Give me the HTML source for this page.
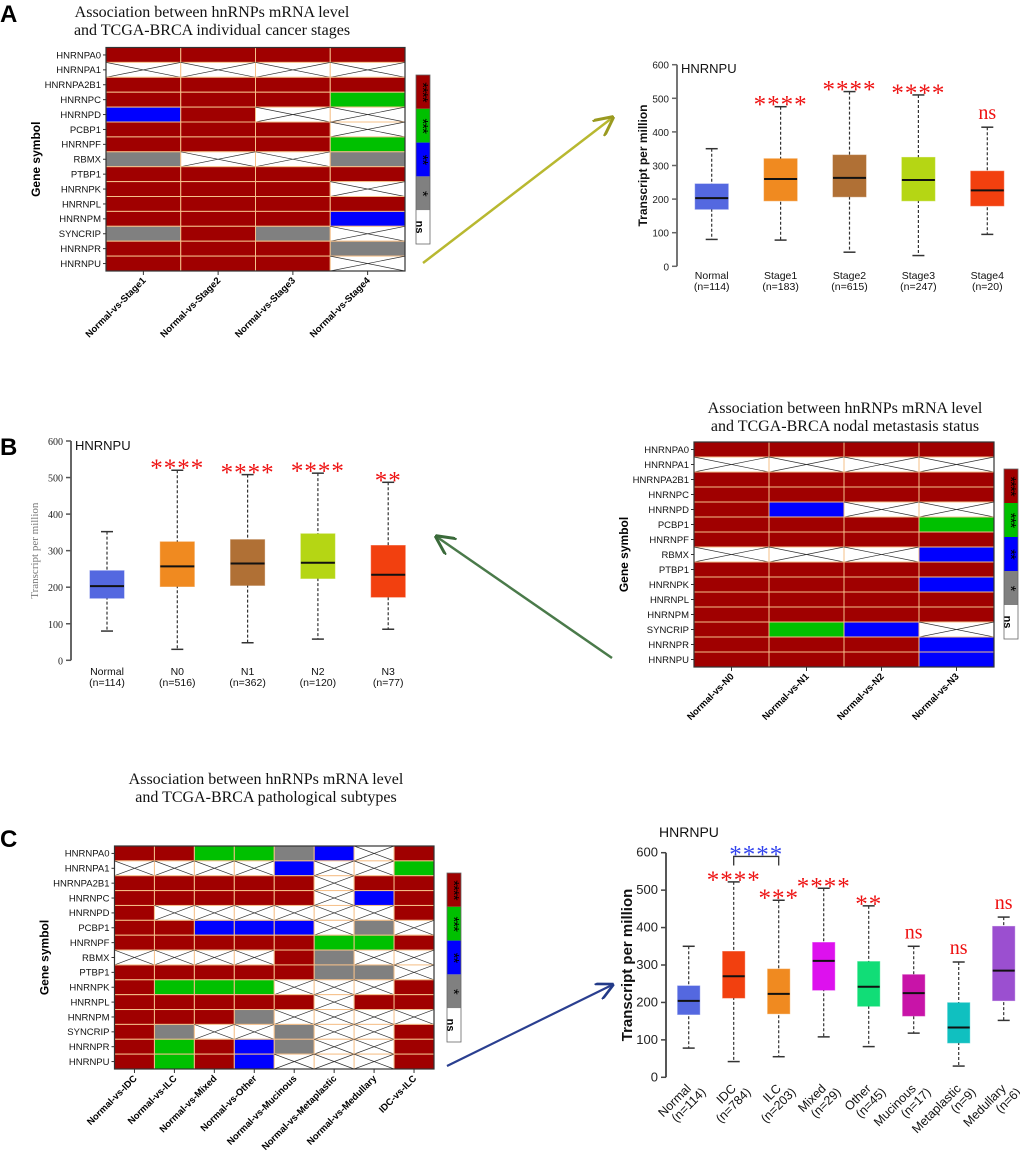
<!DOCTYPE html>
<html><head><meta charset="utf-8"><style>
body{margin:0;background:#fff;}
svg{display:block;font-family:"Liberation Sans",sans-serif;}
</style></head><body>
<svg id="fig" width="1020" height="1155" viewBox="0 0 1020 1155">
<text x="0" y="22" font-size="24" font-weight="bold">A</text>
<text x="0" y="455" font-size="24" font-weight="bold">B</text>
<text x="0" y="847" font-size="24" font-weight="bold">C</text>
<g font-family="Liberation Serif,serif" font-size="16" text-anchor="middle" fill="#111">
<text x="212" y="17">Association between hnRNPs mRNA level</text>
<text x="212" y="35">and TCGA-BRCA individual cancer stages</text>
<text x="845" y="413">Association between hnRNPs mRNA level</text>
<text x="845" y="431">and TCGA-BRCA nodal metastasis status</text>
<text x="266" y="784">Association between hnRNPs mRNA level</text>
<text x="266" y="802">and TCGA-BRCA pathological subtypes</text>
</g>
<defs>
<marker id="ahY" markerWidth="8" markerHeight="8" refX="7" refY="4" orient="auto"><path d="M0,0 L8,4 L0,8" fill="none" stroke="#9a9a20" stroke-width="1.2"/></marker>
<marker id="ahG" markerWidth="8" markerHeight="8" refX="7" refY="4" orient="auto"><path d="M0,0 L8,4 L0,8" fill="none" stroke="#3a6a3a" stroke-width="1.2"/></marker>
<marker id="ahB" markerWidth="8" markerHeight="8" refX="7" refY="4" orient="auto"><path d="M0,0 L8,4 L0,8" fill="none" stroke="#223a88" stroke-width="1.2"/></marker>
</defs>
<line x1="423" y1="263" x2="612" y2="118" stroke="#b8b830" stroke-width="2.5" marker-end="url(#ahY)"/>
<line x1="612" y1="658" x2="437" y2="537" stroke="#4a7a4a" stroke-width="2.5" marker-end="url(#ahG)"/>
<line x1="447" y1="1066" x2="612" y2="985" stroke="#2a3f90" stroke-width="2.2" marker-end="url(#ahB)"/>
</svg>
<script>
const genes=["HNRNPA0","HNRNPA1","HNRNPA2B1","HNRNPC","HNRNPD","PCBP1","HNRNPF","RBMX","PTBP1","HNRNPK","HNRNPL","HNRNPM","SYNCRIP","HNRNPR","HNRNPU"];
// significance codes: 4=****,3=***,2=**,1=*,0=ns
const heatA=[[4,4,4,4],[0,0,0,0],[4,4,4,4],[4,4,4,3],[2,4,0,0],[4,4,4,0],[4,4,4,3],[1,0,0,1],[4,4,4,4],[4,4,4,0],[4,4,4,4],[4,4,4,2],[1,4,1,0],[4,4,4,1],[4,4,4,0]];
const colsA=["Normal-vs-Stage1","Normal-vs-Stage2","Normal-vs-Stage3","Normal-vs-Stage4"];
const heatB=[[4,4,4,4],[0,0,0,0],[4,4,4,4],[4,4,4,4],[4,2,0,0],[4,4,4,3],[4,4,4,4],[0,0,0,2],[4,4,4,4],[4,4,4,2],[4,4,4,4],[4,4,4,4],[4,3,2,0],[4,4,4,2],[4,4,4,2]];
const colsB=["Normal-vs-N0","Normal-vs-N1","Normal-vs-N2","Normal-vs-N3"];
const heatC=[[4,4,3,3,1,2,0,4],[0,0,0,0,2,0,0,3],[4,4,4,4,4,0,4,4],[4,4,4,4,4,0,2,4],[4,0,0,0,0,0,0,4],[4,4,2,2,2,0,1,0],[4,4,4,4,4,3,3,4],[0,0,0,0,4,1,0,0],[4,4,4,4,4,1,1,0],[4,3,3,3,0,0,0,4],[4,4,4,4,4,0,4,4],[4,4,4,1,0,0,0,0],[4,1,0,0,1,0,0,4],[4,3,4,2,1,0,0,4],[4,3,4,2,0,0,0,4]];
const colsC=["Normal-vs-IDC","Normal-vs-ILC","Normal-vs-Mixed","Normal-vs-Other","Normal-vs-Mucinous","Normal-vs-Metaplastic","Normal-vs-Medullary","IDC-vs-ILC"];
const sigColors=["#ffffff","#808080","#0000ff","#00c000","#a00000"];
const sigLabels=["ns","*","**","***","****"];

// boxplots: [min,q1,median,q3,max]
const catsA=["Normal","Stage1","Stage2","Stage3","Stage4"];
const nA=["114","183","615","247","20"];
const boxA=[[80,170,203,245,350],[78,195,260,320,475],[42,207,263,331,520],[32,195,257,324,510],[95,180,226,283,414]];
const sigA=["","****","****","****","ns"];
const catsB=["Normal","N0","N1","N2","N3"];
const nB=["114","516","362","120","77"];
const boxB=[[80,170,203,245,352],[30,202,257,324,520],[48,205,265,330,508],[58,224,267,346,512],[85,173,234,314,487]];
const sigB=["","****","****","****","**"];
const catsC=["Normal","IDC","ILC","Mixed","Other","Mucinous","Metaplastic","Medullary"];
const nC=["114","784","203","29","45","17","9","6"];
const boxC=[[78,168,204,244,350],[42,212,270,336,522],[55,170,223,289,473],[108,233,311,360,505],[82,190,242,309,458],[118,164,225,274,350],[30,92,133,199,308],[152,205,285,403,428]];
const sigC=["","****","***","****","**","ns","ns","ns"];
const yTicks=[0,100,200,300,400,500,600];

const NS="http://www.w3.org/2000/svg";
const fig=document.getElementById('fig');
function el(tag,attrs,parent,txt){const e=document.createElementNS(NS,tag);for(const k in attrs)e.setAttribute(k,attrs[k]);if(txt!==undefined)e.textContent=txt;(parent||fig).appendChild(e);return e;}

function heatmap(id,data,cols,x0,x1,y0,y1,leg){
  const g=el('g',{});
  
  
  const nc=cols.length,nr=genes.length,cw=(x1-x0)/nc,rh=(y1-y0)/nr;
  const xs=c=>x0+c*cw, ys=r=>y0+r*rh;
  data.forEach((row,r)=>row.forEach((v,c)=>{
    const rc=el('rect',{x:xs(c),y:ys(r),width:cw,height:rh,fill:sigColors[v],stroke:'#f5c08a','stroke-width':1},g);
    
    
    if(v===0){
      el('line',{x1:xs(c),y1:ys(r),x2:xs(c)+cw,y2:ys(r)+rh,stroke:'#333','stroke-width':0.7},g);
      el('line',{x1:xs(c),y1:ys(r)+rh,x2:xs(c)+cw,y2:ys(r),stroke:'#333','stroke-width':0.7},g);
    }
  }));
  el('rect',{x:x0,y:y0,width:x1-x0,height:y1-y0,fill:'none',stroke:'#333','stroke-width':1.2},g);
  genes.forEach((gn,r)=>{
    const t=el('text',{x:x0-5,y:ys(r)+rh/2+3.3,'font-size':9.5,'text-anchor':'end',fill:'#111'},g,gn);
    
    
    el('line',{x1:x0-3,x2:x0,y1:ys(r)+rh/2,y2:ys(r)+rh/2,stroke:'#333'},g);
  });
  const yl=el('text',{x:0,y:0,transform:`translate(${x0-66},${(y0+y1)/2}) rotate(-90)`,'font-size':12,'font-weight':'bold','text-anchor':'middle'},g,'Gene symbol');
  
  
  cols.forEach((cn,c)=>{
    const cx=xs(c)+cw/2;
    el('line',{x1:cx,x2:cx,y1:y1,y2:y1+4,stroke:'#333'},g);
    const t=el('text',{x:0,y:0,transform:`translate(${cx+3},${y1+10}) rotate(-45)`,'font-size':9.5,'font-weight':'bold','text-anchor':'end'},g,cn);
    
    
  });
  const [lx,ly0,ly1]=leg, lw=14, sh=(ly1-ly0)/5;
  const lg=el('g',{},g);
  
  
  for(let i=0;i<5;i++){
    const v=4-i, yy=ly0+i*sh;
    el('rect',{x:lx,y:yy,width:lw,height:sh,fill:sigColors[v]},lg);
    const t=el('text',{x:0,y:0,transform:`translate(${lx+lw/2-(v===0?4:1)},${yy+sh/2}) rotate(90)`,'font-size':v===0?11:15,'font-weight':v===0?'bold':'normal','text-anchor':'middle','dominant-baseline':'middle','letter-spacing':v===0?0:-1},lg,sigLabels[v]);
    
    
  }
  el('rect',{x:lx,y:ly0,width:lw,height:ly1-ly0,fill:'none',stroke:'#666','stroke-width':0.8},lg);
}
heatmap('heatmap-a',heatA,colsA,106,405,47.5,271,[416,75,244]);
heatmap('heatmap-b',heatB,colsB,694,994,442,667,[1004,469,639]);
heatmap('heatmap-c',heatC,colsC,114.5,434,846,1069,[447,873,1042]);

function boxplot(id,cats,ns,data,sig,o){
  const g=el('g',{});
  
  
  const ys=v=>o.y0+(o.y600-o.y0)*v/600;
  const xs=i=>o.cx0+i*o.dx;
  el('line',{x1:o.ax,x2:o.ax,y1:ys(600),y2:ys(0),stroke:o.axc,'stroke-width':1.8},g);
  yTicks.forEach(t=>{
    el('line',{x1:o.ax-5,x2:o.ax,y1:ys(t),y2:ys(t),stroke:o.axc,'stroke-width':1.5},g);
    const tl=el('text',{x:o.ax-8,y:ys(t)+4,'font-size':o.tfs,'text-anchor':'end','font-family':o.serif?'Liberation Serif,serif':'Liberation Sans,sans-serif',fill:'#222'},g,t);
    
    
  });
  const yt=el('text',{x:0,y:0,transform:`translate(${o.ylx},${(ys(0)+ys(600))/2}) rotate(-90)`,'font-size':o.ylfs,'font-weight':o.serif?'normal':'bold','text-anchor':'middle','font-family':o.serif?'Liberation Serif,serif':'Liberation Sans,sans-serif',fill:o.serif?'#777':'#111'},g,'Transcript per million');
  
  
  const tt=el('text',{x:o.tx,y:o.ty,'font-size':o.tfs2,fill:'#111'},g,'HNRNPU');
  
  
  data.forEach((d,i)=>{
    const cx=xs(i),w=o.bw;
    el('line',{x1:cx,x2:cx,y1:ys(d[4]),y2:ys(d[0]),stroke:'#333','stroke-width':1.2,'stroke-dasharray':'3,2'},g);
    el('line',{x1:cx-6,x2:cx+6,y1:ys(d[4]),y2:ys(d[4]),stroke:'#333','stroke-width':1.5},g);
    el('line',{x1:cx-6,x2:cx+6,y1:ys(d[0]),y2:ys(d[0]),stroke:'#333','stroke-width':1.5},g);
    const b=el('rect',{x:cx-w/2,y:ys(d[3]),width:w,height:ys(d[1])-ys(d[3]),fill:o.colors[i],stroke:o.colors[i],'stroke-opacity':0.6},g);
    
    
    el('line',{x1:cx-w/2,x2:cx+w/2,y1:ys(d[2]),y2:ys(d[2]),stroke:'#111','stroke-width':2},g);
    if(sig[i]){
      const isns=sig[i]==='ns';
      const s=el('text',{x:cx,y:isns?ys(d[4])-8:ys(d[4])+6,'font-size':isns?20:25,'text-anchor':'middle',fill:'#ee1111','font-family':'Liberation Serif,serif','letter-spacing':isns?0:1},g,sig[i]);
      
      
    }
    if(o.rot){
      const t=el('text',{x:0,y:0,transform:`translate(${cx+3},${ys(0)+12}) rotate(-45)`,'font-size':12.5,'text-anchor':'end',fill:'#111'},g);
      el('tspan',{x:0,dy:0},t,cats[i]);el('tspan',{x:8,dy:13},t,'(n='+ns[i]+')');
      
      
    } else {
      const t1=el('text',{x:cx,y:o.l1,'font-size':o.lfs,'text-anchor':'middle',fill:'#111'},g,cats[i]);
      const t2=el('text',{x:cx,y:o.l1+11,'font-size':o.lfs,'text-anchor':'middle',fill:'#111'},g,'(n='+ns[i]+')');
      
      
      
      
    }
  });
  return {g,xs,ys};
}
const colA=["#5468e0","#f08a20","#b07035","#b5d614","#f2400f"];
boxplot('boxplot-a',catsA,nA,boxA,sigA,{y0:266.3,y600:64.7,ax:677,cx0:711.7,dx:68.9,bw:33,axc:'#666',tfs:10,ylx:647,ylfs:12,tx:681,ty:73,tfs2:13,l1:279,lfs:10.5,colors:colA});
boxplot('boxplot-b',catsB,nB,boxB,sigB,{y0:660.3,y600:441,ax:71,cx0:107,dx:70.3,bw:34,axc:'#555',tfs:10,ylx:38,ylfs:11,serif:true,tx:75,ty:450,tfs2:13,l1:675,lfs:10.5,colors:colA});
const colC=["#5468e0","#f2400f","#f08a20","#dd11ee","#11dd77","#c814a8","#10c0c0","#9b4fd0"];
const pc=boxplot('boxplot-c',catsC,nC,boxC,sigC,{y0:1077.3,y600:852.7,ax:666,cx0:688.7,dx:45,bw:22,axc:'#444',tfs:13,ylx:632,ylfs:15,tx:659,ty:837,tfs2:14,rot:true,colors:colC});
const bx1=pc.xs(1),bx2=pc.xs(2),by=pc.ys(590);
const br=el('path',{d:`M${bx1},${by+9} L${bx1},${by} L${bx2},${by} L${bx2},${by+9}`,fill:'none',stroke:'#333','stroke-width':1.3});


const bs=el('text',{x:(bx1+bx2)/2,y:by+6,'font-size':25,'text-anchor':'middle',fill:'#3344ee','font-family':'Liberation Serif,serif','letter-spacing':1},fig,'****');


</script>
</body></html>
